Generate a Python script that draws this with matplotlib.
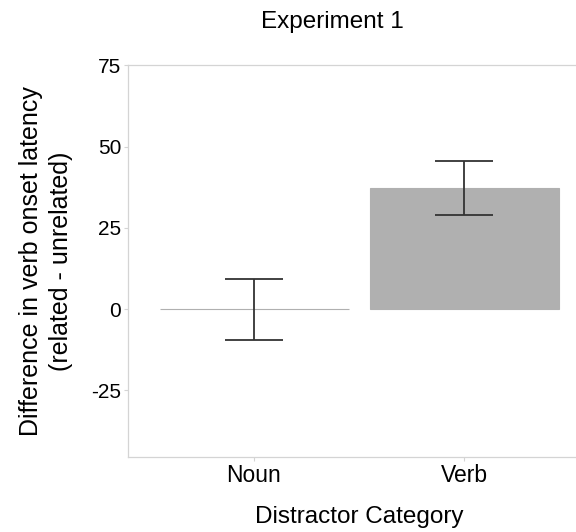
import matplotlib
matplotlib.use("Agg")
import matplotlib.pyplot as plt

plt.rcParams['font.family'] = ['Liberation Sans', 'DejaVu Sans']

categories = ['Noun', 'Verb']
mean_diff = [0.0, 37.2]
std_err = [9.4, 8.3]
y_ticks = [-25, 0, 25, 50, 75]

bar_color = '#B0B0B0'
axis_gray = '#D4D4D4'

fig = plt.figure(figsize=(5.76, 5.32), dpi=100)
ax = fig.add_axes([128 / 576, 1 - 457 / 532, 462 / 576, 392 / 532])

x = [1, 2]
ax.bar(x, mean_diff, width=0.9, color=bar_color, edgecolor=bar_color, linewidth=0.8)
ax.errorbar(x, mean_diff, yerr=std_err, fmt='none', ecolor='#333333',
            elinewidth=1.3, capsize=21, capthick=1.3)

ax.set_xlim(0.4, 2.6)
ax.set_ylim(-45.5, 75.1)
ax.set_xticks(x)
ax.set_xticklabels(categories, fontsize=16.5)
ax.set_yticks(y_ticks)
ax.set_yticklabels([str(v) for v in y_ticks], fontsize=15)
ax.tick_params(axis='both', color=axis_gray, length=3, width=0.8, pad=2)

for side in ['left', 'bottom', 'top']:
    ax.spines[side].set_color(axis_gray)
    ax.spines[side].set_linewidth(0.9)
ax.spines['right'].set_visible(False)

ax.set_xlabel('Distractor Category', fontsize=17.5, labelpad=14)
fig.text(46 / 576, 1 - 261 / 532,
         'Difference in verb onset latency\n(related - unrelated)',
         rotation=90, ha='center', va='center', fontsize=18, linespacing=1.3)
fig.text(332 / 576, 1 - 22 / 532, 'Experiment 1', ha='center', va='center',
         fontsize=17.5)

fig.savefig('out.png', dpi=100)
